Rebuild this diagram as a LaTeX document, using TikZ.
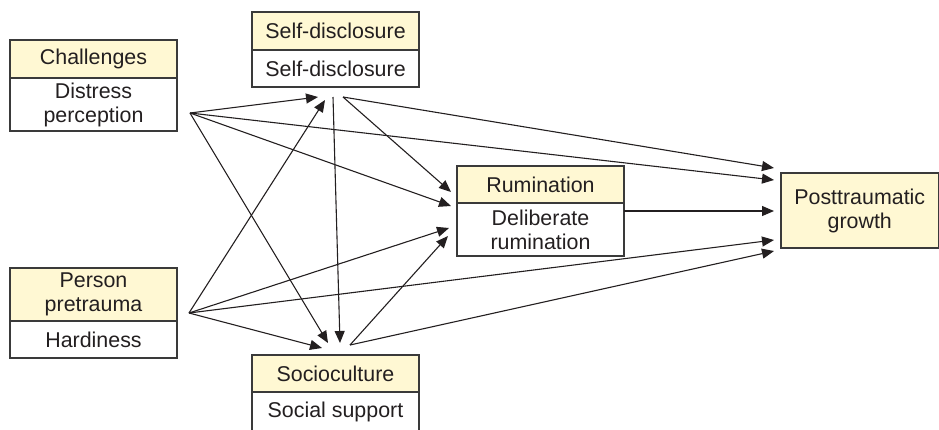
\documentclass[tikz,border=0pt]{standalone}
\usepackage{fontspec}
\setmainfont{Liberation Sans}
\usetikzlibrary{positioning,arrows.meta}
\definecolor{ink}{HTML}{231F20}
\definecolor{frame}{HTML}{3A3A3A}
\definecolor{cream}{HTML}{FFF8D3}
\tikzset{
  hdr/.style={rectangle,draw=frame,fill=cream,line width=1.1pt,outer sep=0pt,
    minimum width=167pt,align=center,inner sep=2pt,text=ink},
  bdy/.style={hdr,fill=white},
  fl/.style={-{Triangle[length=12pt,width=10pt]},draw=ink,line width=1.1pt},
}
\begin{document}
\begin{tikzpicture}[x=1pt,y=-1pt,node distance=0pt,every node/.style={font=\fontsize{21.4}{24}\selectfont}]
  \useasboundingbox (0,0) rectangle (939,429);
  \node[hdr,minimum height=38pt] (chH) at (93.5,59) {Challenges};
  \node[bdy,minimum height=53pt,below=of chH] (chB) {Distress\\perception};
  \node[hdr,minimum height=53pt] (peH) at (93.5,294.5) {Person\\pretrauma};
  \node[bdy,minimum height=37pt,below=of peH] (peB) {Hardiness};
  \node[hdr,minimum height=38pt] (sdH) at (335.5,31) {Self-disclosure};
  \node[bdy,minimum height=37pt,below=of sdH] (sdB) {Self-disclosure};
  \node[hdr,minimum height=37pt] (rumH) at (540.5,184.5) {Rumination};
  \node[bdy,minimum height=53pt,below=of rumH] (rumB) {Deliberate\\rumination};
  \node[hdr,minimum height=37pt] (scH) at (335.5,373.5) {Socioculture};
  \node[bdy,minimum height=39pt,below=of scH] (scB) {Social support};
  \node[hdr,minimum width=157.5pt,minimum height=75pt] (ptg) at (859.75,210.5) {Posttraumatic\\growth};
  % ports
  \coordinate (chO) at (190,113);  \coordinate (peO) at (189,313);
  \coordinate (sdI1) at (318,97);  \coordinate (sdI2) at (325,100);
  \coordinate (sdO1) at (333,97);  \coordinate (sdO2) at (343,97);
  \coordinate (rumI1) at (451,192); \coordinate (rumI2) at (451,206);
  \coordinate (rumI3) at (449,228); \coordinate (rumI4) at (448,236);
  \coordinate (rumO) at (624,211);
  \coordinate (scI1) at (322,348); \coordinate (scI2) at (328,343);
  \coordinate (scI3) at (340,343); \coordinate (scO) at (350,345);
  \coordinate (ptgI1) at (774,168); \coordinate (ptgI2) at (774,180);
  \coordinate (ptgI3) at (774,211); \coordinate (ptgI4) at (774,240);
  \coordinate (ptgI5) at (774,251);
  \foreach \a/\b in {chO/sdI1,chO/rumI2,chO/ptgI2,chO/scI2,peO/sdI2,peO/rumI3,peO/ptgI4,peO/scI1,
      sdO1/scI3,sdO2/rumI1,sdO2/ptgI1,scO/rumI4,scO/ptgI5,rumO/ptgI3}
    \draw[fl] (\a)--(\b);
\end{tikzpicture}
\end{document}
